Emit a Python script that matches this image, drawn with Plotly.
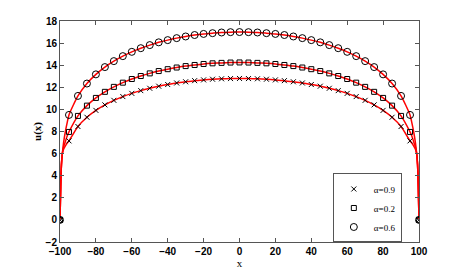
import plotly.graph_objects as go

# marker positions
x_mark = [-100, -95, -90, -85, -80, -75, -70, -65, -60, -55, -50, -45, -40, -35, -30, -25, -20, -15, -10, -5,
          0, 5, 10, 15, 20, 25, 30, 35, 40, 45, 50, 55, 60, 65, 70, 75, 80, 85, 90, 95, 100]

half_a09 = [7.15, 8.45, 9.29, 9.91, 10.41, 10.82, 11.16, 11.45, 11.70, 11.91, 12.10, 12.25, 12.39, 12.50, 12.60, 12.67, 12.73, 12.77, 12.79]
half_a02 = [7.96, 9.41, 10.34, 11.04, 11.59, 12.04, 12.42, 12.75, 13.02, 13.26, 13.47, 13.64, 13.79, 13.92, 14.02, 14.11, 14.17, 14.21, 14.24]
half_a06 = [9.50, 11.22, 12.34, 13.17, 13.83, 14.37, 14.82, 15.21, 15.54, 15.82, 16.07, 16.27, 16.45, 16.60, 16.73, 16.83, 16.90, 16.96, 16.99]
peak_a09, peak_a02, peak_a06 = 12.80, 14.25, 17.00

u_a09 = [0] + half_a09 + [peak_a09] + half_a09[::-1] + [0]
u_a02 = [0] + half_a02 + [peak_a02] + half_a02[::-1] + [0]
u_a06 = [0] + half_a06 + [peak_a06] + half_a06[::-1] + [0]

# extra points of the red curves near the boundaries
edge_x = [-99.6, -99.2, -98.7, -98, -97, -96]
edge_a09 = [3.0, 5.0, 6.0, 6.4, 6.7, 6.95]
edge_a02 = [3.0, 5.0, 6.0, 6.6, 7.1, 7.6]
edge_a06 = [3.0, 5.0, 6.0, 7.0, 8.0, 8.8]


def curve(u, edge):
    xs = [x_mark[0]] + edge_x + x_mark[1:-1] + [-e for e in edge_x[::-1]] + [x_mark[-1]]
    ys = [u[0]] + edge + u[1:-1] + edge[::-1] + [u[-1]]
    return xs, ys


fig = go.Figure()
for u, edge in [(u_a09, edge_a09), (u_a02, edge_a02), (u_a06, edge_a06)]:
    xs, ys = curve(u, edge)
    fig.add_trace(go.Scatter(x=xs, y=ys, mode="lines", line=dict(color="#ff0000", width=1.5, shape="spline", smoothing=0.6),
                             showlegend=False, hoverinfo="skip"))

fig.add_trace(go.Scatter(x=x_mark, y=u_a09, mode="markers", name="α=0.9",
                         marker=dict(symbol="x-thin-open", size=5, color="black", line=dict(width=1, color="black"))))
fig.add_trace(go.Scatter(x=x_mark, y=u_a02, mode="markers", name="α=0.2",
                         marker=dict(symbol="square-open", size=5, color="black", line=dict(width=1, color="black"))))
fig.add_trace(go.Scatter(x=x_mark, y=u_a06, mode="markers", name="α=0.6",
                         marker=dict(symbol="circle-open", size=7, color="black", line=dict(width=1, color="black"))))

axis_common = dict(showline=True, linecolor="#555555", linewidth=1, mirror="ticks", ticks="inside", ticklen=4,
                   tickcolor="#555555", showgrid=False, zeroline=False, automargin=False,
                   tickfont=dict(family="Liberation Sans", size=10, color="black", weight="bold"))

# the page body adds an 8px offset, so the figure is 8px smaller than the window
fig.update_layout(
    width=455, height=265,
    margin=dict(l=52, r=44, t=13, b=31),
    paper_bgcolor="white", plot_bgcolor="white",
    xaxis=dict(range=[-100, 100], tickvals=list(range(-100, 101, 20)),
               title=dict(text="x", font=dict(family="Liberation Serif", size=11, color="black"), standoff=0),
               **axis_common),
    yaxis=dict(range=[-2, 18], tickvals=list(range(-2, 19, 2)),
               title=dict(text="<b>u(x)</b>", font=dict(family="Liberation Serif", size=11, color="black"), standoff=1),
               **axis_common),
    legend=dict(x=0.76, y=0.31, xanchor="left", yanchor="top", bgcolor="white", bordercolor="#555555", borderwidth=1,
                font=dict(family="Liberation Serif", size=9, color="black"), itemwidth=30),
)

fig.write_html("out.html")
